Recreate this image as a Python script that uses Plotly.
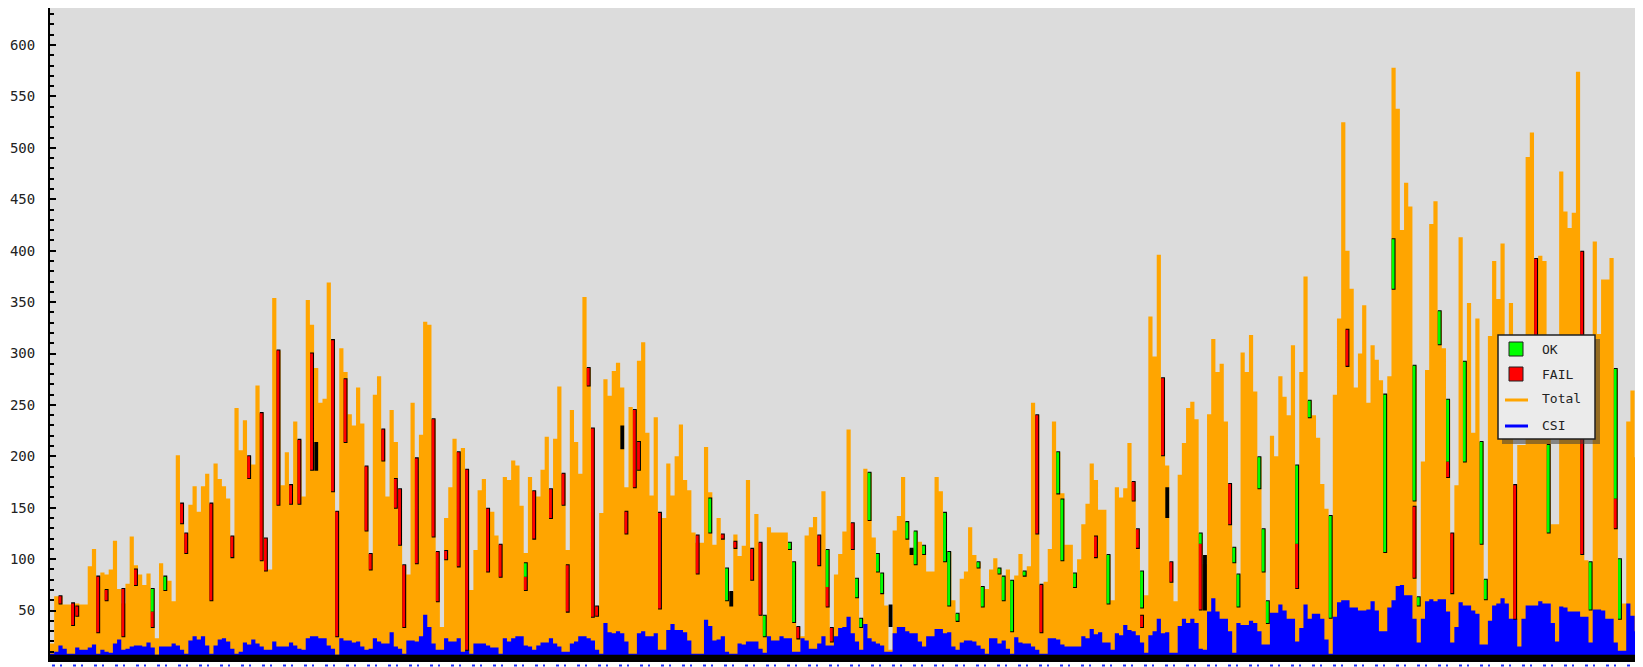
import plotly.graph_objects as go

# ---------------- data ----------------
total = [
 18,64,64,56,56,57,57,56,56,93,110,83,87,85,90,118,71,57,76,122,
 94,85,75,86,71,23,96,83,79,59,201,154,125,153,171,146,171,183,154,193,
 178,171,159,122,247,206,235,200,192,269,242,120,90,354,303,172,204,172,234,216,
 161,352,328,286,252,256,369,313,146,305,282,241,230,267,232,190,105,260,278,226,
 161,245,214,168,94,85,252,198,221,331,328,236,107,34,140,170,217,204,208,187,
 70,109,167,178,149,146,123,114,180,177,196,191,152,106,180,166,161,187,219,168,
 217,268,183,109,245,214,183,355,286,227,54,145,275,259,283,291,267,170,248,245,
 293,311,223,162,238,145,140,193,162,200,231,177,167,126,116,116,209,165,114,140,
 124,91,68,124,103,113,177,110,144,116,45,131,126,126,126,126,116,97,34,25,
 123,131,141,123,166,109,33,85,105,127,226,135,81,42,188,184,121,105,86,55,
 12,128,142,180,136,110,127,117,113,88,88,180,166,145,107,60,47,81,88,131,
 104,97,73,71,90,101,91,83,90,79,84,105,88,93,252,240,75,78,110,234,
 204,164,114,114,86,100,134,154,193,177,148,148,104,60,170,160,169,213,175,129,
 88,65,336,297,396,276,191,97,59,182,213,247,253,236,125,95,241,314,282,290,
 234,173,111,85,301,282,318,263,199,129,59,220,200,278,258,240,308,191,282,375,
 254,240,218,173,149,142,260,334,525,400,363,267,300,347,252,308,294,274,260,278,
 578,538,420,466,443,288,63,195,284,426,448,341,305,255,125,172,413,292,349,223,
 334,214,80,317,390,353,407,313,349,172,211,211,491,515,392,395,390,300,134,134,
 477,438,422,437,574,399,99,97,409,319,372,372,393,285,100,57,234,264,199,145,
]

csi = [
 8,10,16,13,8,8,14,12,12,14,17,8,12,10,9,18,22,12,13,15,
 16,16,15,19,14,7,15,15,15,18,16,12,8,21,25,22,25,16,8,16,
 22,23,20,13,8,10,19,17,22,18,15,12,12,20,15,15,15,19,16,13,
 12,23,25,25,23,23,16,13,7,23,21,21,19,20,15,12,13,23,20,18,
 18,29,15,13,8,21,21,20,25,46,34,18,12,12,23,20,20,23,10,12,
 8,18,18,18,16,14,14,8,23,20,23,25,25,16,15,12,16,19,19,23,
 18,15,10,10,18,20,25,25,23,21,12,8,38,29,28,30,28,20,8,8,
 28,30,25,25,28,12,12,31,37,31,31,29,21,8,8,8,41,35,21,22,
 25,10,8,8,18,17,20,20,20,13,9,25,21,21,25,23,23,10,10,23,
 21,13,13,18,25,16,16,25,33,34,44,28,20,12,37,23,20,18,16,10,
 10,28,34,34,30,28,28,20,15,25,25,32,32,28,29,15,12,19,21,21,
 20,16,13,8,23,23,18,21,13,8,24,19,18,18,15,12,8,8,23,23,
 22,17,15,15,15,15,25,23,32,27,29,19,19,12,28,26,36,31,30,26,
 19,9,26,30,42,28,29,9,9,35,42,38,42,38,13,12,49,62,49,42,
 42,30,9,38,36,36,40,38,30,17,17,48,48,56,50,42,42,20,33,56,
 42,47,47,42,22,8,44,58,60,60,53,53,50,50,51,59,50,30,30,53,
 60,74,75,65,65,42,19,42,59,61,59,61,61,49,19,34,58,55,55,50,
 47,17,17,40,55,57,62,57,42,42,15,42,55,55,55,59,57,57,38,20,
 54,53,49,49,49,44,44,19,51,51,50,42,42,19,11,11,57,45,30,42,
]

ok_idx = [24,27,113,157,161,170,176,177,185,192,193,195,197,198,204,206,208,213,214,216,
          221,222,226,227,229,232,240,241,244,252,260,274,282,283,288,289,290,297,300,305,
          318,320,325,326,331,333,337,341,342,357,367,373,374]
ok_hi = [71,83,96,159,91,45,116,97,109,81,42,184,105,86,136,127,113,145,107,47,
         97,73,91,83,79,88,204,158,86,104,88,125,111,85,199,129,59,191,254,142,
         260,411,288,63,341,255,292,214,80,211,97,285,100]
ok_lo = [49,70,83,126,60,25,110,39,73,63,34,138,88,67,120,95,105,98,55,40,
         92,54,86,60,30,84,164,99,73,57,53,115,97,54,169,88,38,115,238,43,
         107,363,157,55,309,195,195,115,61,126,51,159,42]

fail_idx = [2,5,6,11,13,17,20,24,31,32,38,43,47,50,51,54,57,59,62,67,
            68,70,75,76,79,82,83,84,87,91,92,94,97,99,104,107,113,115,119,122,
            123,128,129,130,137,139,140,145,154,160,163,167,169,178,183,185,186,191,235,236,
            249,258,259,260,265,267,274,281,297,309,325,333,334,349,354,365,373]
fail_hi = [64,57,54,83,70,71,90,49,154,125,154,122,200,242,120,303,172,216,300,313,
           146,275,190,105,226,178,168,94,198,236,107,108,204,187,149,114,83,166,168,183,
           94,286,227,54,146,245,214,145,123,124,117,110,116,34,123,73,33,135,240,75,
           122,175,129,45,276,97,115,173,115,323,151,195,125,172,392,399,159]
fail_lo = [57,36,45,29,60,25,75,34,135,106,60,102,179,99,89,153,154,154,187,166,
           25,214,128,90,196,150,114,34,96,122,59,100,93,12,88,83,70,120,140,153,
           49,269,44,45,125,170,187,52,86,120,111,80,46,23,94,54,20,110,125,29,
           102,157,111,34,201,78,51,134,72,288,82,180,67,42,230,105,130]

mark_idx = [63,136,162,200,205,266,275]
mark_hi = [213,229,68,55,110,169,103]
mark_lo = [187,208,55,35,105,141,51]

legend_labels = ["OK", "FAIL", "Total", "CSI"]

# ---------------- geometry ----------------
# the page body adds an 8 px offset, so the figure is sized/margined to
# put the plot area at page x 50..1643, y 8..662
OFF = 8
FW, FH = 1643 - OFF, 667 - OFF
L, R, T, B = 50 - OFF, 0, 8 - OFF, 667 - 662
PW, PH = FW - L - R, FH - T - B
def px(x):  # page pixel -> paper
    return (x - 50) / PW
def py(y):
    return (662 - y) / PH

def rects(idx, hi, lo, x_from, x_to, pad):
    """closed rectangles (one per candle) through the data axes"""
    xs, ys = [], []
    for i, h, l in zip(idx, hi, lo):
        a, b = i + x_from, i + x_to
        xs += [a, b, b, a, a, None]
        ys += [l - pad, l - pad, h + pad, h + pad, l - pad, None]
    return xs, ys

n = len(total)
xs = list(range(n + 1))

fig = go.Figure()
fig.add_trace(go.Scatter(
    x=xs, y=total + [total[-1]], mode="lines", line=dict(width=0, shape="hv", color="#FFA500"),
    fill="tozeroy", fillcolor="#FFA500", name="Total", hoverinfo="skip"))
fig.add_trace(go.Scatter(
    x=xs, y=csi + [csi[-1]], mode="lines", line=dict(width=0, shape="hv", color="#0000FF"),
    fill="tozeroy", fillcolor="#0000FF", name="CSI", hoverinfo="skip"))

bx, by = rects(ok_idx + fail_idx + mark_idx, ok_hi + fail_hi + mark_hi,
               ok_lo + fail_lo + mark_lo, 0.05, 0.97, 1.0)
fig.add_trace(go.Scatter(x=bx, y=by, mode="lines", line=dict(width=0, color="#000000"),
                         fill="toself", fillcolor="#000000", name="edge", hoverinfo="skip"))
rx, ry = rects(fail_idx, fail_hi, fail_lo, 0.05, 0.72, 0.0)
fig.add_trace(go.Scatter(x=rx, y=ry, mode="lines", line=dict(width=0, color="#FF0000"),
                         fill="toself", fillcolor="#FF0000", name="FAIL", hoverinfo="skip"))
gx, gy = rects(ok_idx, ok_hi, ok_lo, 0.05, 0.72, 0.0)
fig.add_trace(go.Scatter(x=gx, y=gy, mode="lines", line=dict(width=0, color="#00FF00"),
                         fill="toself", fillcolor="#00FF00", name="OK", hoverinfo="skip"))

shapes = []
# thick black band at the base of the plot
shapes.append(dict(type="rect", xref="paper", yref="y", x0=0, x1=1, y0=0, y1=7,
                   fillcolor="#000000", line=dict(width=0), layer="above"))
# cut-off blue date marks under the band
shapes.append(dict(type="line", xref="paper", yref="paper", x0=px(52), x1=1,
                   y0=py(665.5), y1=py(665.5),
                   line=dict(color="#2030FF", width=2, dash="3px,5px,2px,11px")))
# legend box with shadow
shapes.append(dict(type="rect", xref="paper", yref="paper", x0=px(1502), x1=px(1600),
                   y0=py(444), y1=py(339), fillcolor="rgba(60,60,60,0.55)", line=dict(width=0), layer="above"))
shapes.append(dict(type="rect", xref="paper", yref="paper", x0=px(1498), x1=px(1595),
                   y0=py(439), y1=py(335), fillcolor="#EBEBEB", line=dict(color="#202020", width=1.5), layer="above"))
shapes.append(dict(type="rect", xref="paper", yref="paper", x0=px(1509), x1=px(1523),
                   y0=py(356), y1=py(342), fillcolor="#00FF00", line=dict(color="#202020", width=1), layer="above"))
shapes.append(dict(type="rect", xref="paper", yref="paper", x0=px(1509), x1=px(1523),
                   y0=py(381), y1=py(367), fillcolor="#FF0000", line=dict(color="#202020", width=1), layer="above"))
shapes.append(dict(type="line", xref="paper", yref="paper", x0=px(1505), x1=px(1528),
                   y0=py(400), y1=py(400), line=dict(color="#FFA500", width=3), layer="above"))
shapes.append(dict(type="line", xref="paper", yref="paper", x0=px(1505), x1=px(1528),
                   y0=py(426), y1=py(426), line=dict(color="#0000FF", width=3), layer="above"))

annotations = []
for lab, yy in zip(legend_labels, [349, 374, 399, 425]):
    annotations.append(dict(text=lab, xref="paper", yref="paper", x=px(1540), y=py(yy),
                            xanchor="left", yanchor="middle", showarrow=False,
                            font=dict(family="DejaVu Sans Mono", size=13, color="#222222")))

fig.update_layout(
    template="none",
    width=FW, height=FH,
    margin=dict(l=L, r=R, t=T, b=B, pad=0, autoexpand=False),
    paper_bgcolor="#FFFFFF", plot_bgcolor="#DCDCDC",
    showlegend=False,
    shapes=shapes, annotations=annotations,
    xaxis=dict(visible=False, range=[0, n], fixedrange=True, automargin=False),
    yaxis=dict(range=[0, 636], tickmode="linear", tick0=0, dtick=50,
               ticks="inside", ticklen=6, tickwidth=2, tickcolor="#000000",
               minor=dict(ticks="inside", ticklen=4, tickwidth=1.5, tickcolor="#000000",
                          tickmode="linear", tick0=0, dtick=10, showgrid=False),
               showline=True, linecolor="#000000", linewidth=2, mirror=False,
               showgrid=False, zeroline=False, ticklabelstandoff=10, automargin=False,
               tickfont=dict(family="DejaVu Sans Mono", size=14, color="#222222")),
)

fig.write_html("out.html")
